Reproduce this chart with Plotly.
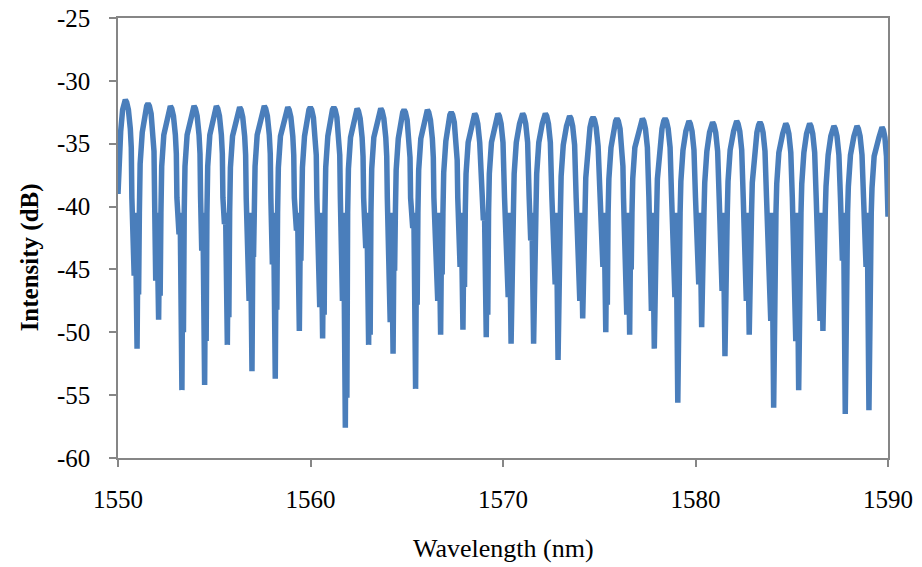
import plotly.graph_objects as go

# Transmission spectrum, one row per fringe period (peak -> dips -> next peak)
wavelength_nm = [
    1550.00, 1550.06, 1550.14, 1550.24, 1550.31,
    1550.38, 1550.45, 1550.54, 1550.64, 1550.69, 1550.72, 1550.84, 1550.90, 1550.99, 1551.04, 1551.07, 1551.11, 1551.15, 1551.26, 1551.40, 1551.49,
    1551.56, 1551.63, 1551.72, 1551.82, 1551.87, 1551.90, 1551.96, 1552.02, 1552.11, 1552.16, 1552.19, 1552.23, 1552.27, 1552.38, 1552.56, 1552.65,
    1552.72, 1552.79, 1552.88, 1552.98, 1553.03, 1553.06, 1553.17, 1553.23, 1553.32, 1553.37, 1553.40, 1553.44, 1553.48, 1553.59, 1553.79, 1553.88,
    1553.95, 1554.02, 1554.11, 1554.21, 1554.26, 1554.29, 1554.35, 1554.41, 1554.50, 1554.55, 1554.58, 1554.62, 1554.66, 1554.77, 1554.95, 1555.04,
    1555.11, 1555.18, 1555.27, 1555.37, 1555.42, 1555.45, 1555.53, 1555.59, 1555.68, 1555.73, 1555.76, 1555.80, 1555.84, 1555.95, 1556.16, 1556.25,
    1556.32, 1556.39, 1556.48, 1556.58, 1556.63, 1556.66, 1556.81, 1556.87, 1556.96, 1557.01, 1557.04, 1557.08, 1557.12, 1557.23, 1557.44, 1557.53,
    1557.60, 1557.67, 1557.76, 1557.86, 1557.91, 1557.94, 1558.02, 1558.08, 1558.17, 1558.22, 1558.25, 1558.29, 1558.33, 1558.44, 1558.66, 1558.75,
    1558.82, 1558.89, 1558.98, 1559.08, 1559.13, 1559.16, 1559.27, 1559.33, 1559.42, 1559.47, 1559.50, 1559.54, 1559.58, 1559.69, 1559.83, 1559.92,
    1559.99, 1560.06, 1560.15, 1560.25, 1560.30, 1560.33, 1560.48, 1560.54, 1560.63, 1560.68, 1560.71, 1560.75, 1560.79, 1560.90, 1561.05, 1561.14,
    1561.21, 1561.28, 1561.37, 1561.47, 1561.52, 1561.55, 1561.66, 1561.72, 1561.81, 1561.86, 1561.89, 1561.93, 1561.97, 1562.08, 1562.26, 1562.35,
    1562.42, 1562.49, 1562.58, 1562.68, 1562.73, 1562.76, 1562.87, 1562.93, 1563.02, 1563.07, 1563.10, 1563.14, 1563.18, 1563.29, 1563.49, 1563.58,
    1563.65, 1563.72, 1563.81, 1563.91, 1563.96, 1563.99, 1564.14, 1564.20, 1564.29, 1564.34, 1564.37, 1564.41, 1564.45, 1564.56, 1564.70, 1564.79,
    1564.86, 1564.93, 1565.02, 1565.12, 1565.17, 1565.20, 1565.31, 1565.37, 1565.46, 1565.51, 1565.54, 1565.58, 1565.62, 1565.73, 1565.91, 1566.00,
    1566.07, 1566.14, 1566.23, 1566.33, 1566.38, 1566.41, 1566.61, 1566.67, 1566.76, 1566.81, 1566.84, 1566.88, 1566.92, 1567.03, 1567.15, 1567.24,
    1567.31, 1567.38, 1567.47, 1567.57, 1567.62, 1567.65, 1567.77, 1567.83, 1567.92, 1567.97, 1568.00, 1568.04, 1568.08, 1568.19, 1568.37, 1568.46,
    1568.53, 1568.60, 1568.69, 1568.79, 1568.84, 1568.87, 1568.98, 1569.04, 1569.13, 1569.18, 1569.21, 1569.25, 1569.29, 1569.40, 1569.58, 1569.67,
    1569.74, 1569.81, 1569.90, 1570.00, 1570.05, 1570.08, 1570.27, 1570.33, 1570.42, 1570.47, 1570.50, 1570.54, 1570.58, 1570.69, 1570.86, 1570.95,
    1571.02, 1571.09, 1571.18, 1571.28, 1571.33, 1571.36, 1571.44, 1571.50, 1571.59, 1571.64, 1571.67, 1571.71, 1571.75, 1571.86, 1572.04, 1572.13,
    1572.20, 1572.27, 1572.36, 1572.46, 1572.51, 1572.54, 1572.71, 1572.77, 1572.86, 1572.91, 1572.94, 1572.98, 1573.02, 1573.13, 1573.30, 1573.39,
    1573.46, 1573.53, 1573.62, 1573.72, 1573.77, 1573.80, 1573.99, 1574.05, 1574.14, 1574.19, 1574.22, 1574.26, 1574.30, 1574.41, 1574.52, 1574.61,
    1574.68, 1574.75, 1574.84, 1574.94, 1574.99, 1575.02, 1575.19, 1575.25, 1575.34, 1575.39, 1575.42, 1575.46, 1575.50, 1575.61, 1575.76, 1575.85,
    1575.92, 1575.99, 1576.08, 1576.18, 1576.23, 1576.26, 1576.43, 1576.49, 1576.58, 1576.63, 1576.66, 1576.70, 1576.74, 1576.85, 1577.08, 1577.17,
    1577.24, 1577.31, 1577.40, 1577.50, 1577.55, 1577.58, 1577.71, 1577.77, 1577.86, 1577.91, 1577.94, 1577.98, 1578.02, 1578.13, 1578.26, 1578.35,
    1578.42, 1578.49, 1578.58, 1578.68, 1578.73, 1578.76, 1578.93, 1578.99, 1579.08, 1579.13, 1579.16, 1579.20, 1579.24, 1579.35, 1579.50, 1579.59,
    1579.66, 1579.73, 1579.82, 1579.92, 1579.97, 1580.00, 1580.17, 1580.23, 1580.32, 1580.37, 1580.40, 1580.44, 1580.48, 1580.59, 1580.73, 1580.82,
    1580.89, 1580.96, 1581.05, 1581.15, 1581.20, 1581.23, 1581.38, 1581.44, 1581.53, 1581.58, 1581.61, 1581.65, 1581.69, 1581.80, 1581.98, 1582.07,
    1582.14, 1582.21, 1582.30, 1582.40, 1582.45, 1582.48, 1582.64, 1582.70, 1582.79, 1582.84, 1582.87, 1582.91, 1582.95, 1583.06, 1583.19, 1583.28,
    1583.35, 1583.42, 1583.51, 1583.61, 1583.66, 1583.69, 1583.91, 1583.97, 1584.06, 1584.11, 1584.14, 1584.18, 1584.22, 1584.33, 1584.53, 1584.62,
    1584.69, 1584.76, 1584.85, 1584.95, 1585.00, 1585.03, 1585.21, 1585.27, 1585.36, 1585.41, 1585.44, 1585.48, 1585.52, 1585.63, 1585.77, 1585.86,
    1585.93, 1586.00, 1586.09, 1586.19, 1586.24, 1586.27, 1586.47, 1586.53, 1586.62, 1586.67, 1586.70, 1586.74, 1586.78, 1586.89, 1587.03, 1587.12,
    1587.19, 1587.26, 1587.35, 1587.45, 1587.50, 1587.53, 1587.63, 1587.69, 1587.78, 1587.83, 1587.86, 1587.90, 1587.94, 1588.05, 1588.23, 1588.32,
    1588.39, 1588.46, 1588.55, 1588.65, 1588.70, 1588.73, 1588.86, 1588.92, 1589.01, 1589.06, 1589.09, 1589.13, 1589.17, 1589.28, 1589.53, 1589.62,
    1589.69, 1589.76, 1589.84, 1589.92, 1590.00,
]

intensity_db = [
    -39.0, -36.0, -34.0, -32.3, -31.7,
    -31.5, -31.7, -32.3, -33.8, -35.3, -39.3, -45.5, -40.5, -51.3, -42.0, -47.0, -40.5, -36.6, -34.1, -32.6, -32.0,
    -31.8, -32.0, -32.6, -34.1, -35.6, -39.3, -45.9, -40.5, -49.0, -42.0, -47.1, -40.5, -36.8, -34.3, -32.8, -32.2,
    -32.0, -32.2, -32.8, -34.3, -35.8, -39.3, -42.2, -40.5, -54.6, -42.0, -50.0, -40.5, -36.8, -34.3, -32.8, -32.2,
    -32.0, -32.2, -32.8, -34.3, -35.8, -39.3, -43.5, -40.5, -54.2, -42.0, -50.7, -40.5, -36.8, -34.3, -32.8, -32.2,
    -32.0, -32.2, -32.8, -34.3, -35.8, -39.3, -41.4, -40.5, -51.0, -42.0, -48.8, -40.5, -36.9, -34.4, -32.9, -32.3,
    -32.1, -32.3, -32.9, -34.4, -35.9, -39.3, -47.5, -40.5, -53.1, -42.0, -44.0, -40.5, -36.8, -34.3, -32.8, -32.2,
    -32.0, -32.2, -32.8, -34.3, -35.8, -39.3, -44.6, -40.5, -53.7, -42.0, -48.2, -40.5, -36.9, -34.4, -32.9, -32.3,
    -32.1, -32.3, -32.9, -34.4, -35.9, -39.3, -41.9, -40.5, -49.9, -42.0, -44.3, -40.5, -36.9, -34.4, -32.9, -32.3,
    -32.1, -32.3, -32.9, -34.4, -35.9, -39.3, -48.0, -40.5, -50.5, -42.0, -48.6, -40.5, -36.9, -34.4, -32.9, -32.3,
    -32.1, -32.3, -32.9, -34.4, -35.9, -39.3, -47.5, -40.5, -57.6, -42.0, -55.2, -40.5, -37.0, -34.5, -33.0, -32.4,
    -32.2, -32.4, -33.0, -34.5, -36.0, -39.3, -43.3, -40.5, -51.0, -42.0, -50.2, -40.5, -37.0, -34.5, -33.0, -32.4,
    -32.2, -32.4, -33.0, -34.5, -36.0, -39.3, -49.2, -40.5, -51.7, -42.0, -45.1, -40.5, -37.1, -34.6, -33.1, -32.5,
    -32.3, -32.5, -33.1, -34.6, -36.1, -39.3, -41.7, -40.5, -54.5, -42.0, -47.8, -40.5, -37.1, -34.6, -33.1, -32.5,
    -32.3, -32.5, -33.1, -34.6, -36.1, -39.3, -47.5, -40.5, -50.2, -42.0, -45.4, -40.5, -37.3, -34.8, -33.3, -32.7,
    -32.5, -32.7, -33.3, -34.8, -36.3, -39.3, -44.8, -40.5, -49.8, -42.0, -46.4, -40.5, -37.4, -34.9, -33.4, -32.8,
    -32.6, -32.8, -33.4, -34.9, -36.4, -39.3, -41.1, -40.5, -50.4, -42.0, -48.6, -40.5, -37.4, -34.9, -33.4, -32.8,
    -32.6, -32.8, -33.4, -34.9, -36.4, -39.3, -47.2, -40.5, -50.9, -42.0, -47.5, -40.5, -37.4, -34.9, -33.4, -32.8,
    -32.6, -32.8, -33.4, -34.9, -36.4, -39.3, -42.7, -40.5, -50.9, -42.0, -48.8, -40.5, -37.4, -34.9, -33.4, -32.8,
    -32.6, -32.8, -33.4, -34.9, -36.4, -39.3, -46.2, -40.5, -52.2, -42.0, -47.0, -40.5, -37.6, -35.1, -33.6, -33.0,
    -32.8, -33.0, -33.6, -35.1, -36.6, -39.3, -47.5, -40.5, -48.9, -42.0, -45.4, -40.5, -37.7, -35.2, -33.7, -33.1,
    -32.9, -33.1, -33.7, -35.2, -36.7, -39.3, -44.8, -40.5, -50.0, -42.0, -47.8, -40.5, -37.8, -35.3, -33.8, -33.2,
    -33.0, -33.2, -33.8, -35.3, -36.8, -39.3, -48.6, -40.5, -50.2, -42.0, -45.0, -40.5, -37.8, -35.3, -33.8, -33.2,
    -33.0, -33.2, -33.8, -35.3, -36.8, -39.3, -48.3, -40.5, -51.3, -42.0, -49.1, -40.5, -37.8, -35.3, -33.8, -33.2,
    -33.0, -33.2, -33.8, -35.3, -36.8, -39.3, -47.2, -40.5, -55.6, -42.0, -47.8, -40.5, -38.0, -35.5, -34.0, -33.4,
    -33.2, -33.4, -34.0, -35.5, -37.0, -39.3, -46.2, -40.5, -49.6, -42.0, -46.4, -40.5, -38.1, -35.6, -34.1, -33.5,
    -33.3, -33.5, -34.1, -35.6, -37.1, -39.3, -46.7, -40.5, -51.9, -42.0, -49.1, -40.5, -38.0, -35.5, -34.0, -33.4,
    -33.2, -33.4, -34.0, -35.5, -37.0, -39.3, -47.5, -40.5, -50.2, -42.0, -47.2, -40.5, -38.1, -35.6, -34.1, -33.5,
    -33.3, -33.5, -34.1, -35.6, -37.1, -39.3, -49.1, -40.5, -56.0, -42.0, -43.8, -40.5, -38.2, -35.7, -34.2, -33.6,
    -33.4, -33.6, -34.2, -35.7, -37.2, -39.3, -50.7, -40.5, -54.6, -42.0, -43.8, -40.5, -38.2, -35.7, -34.2, -33.6,
    -33.4, -33.6, -34.2, -35.7, -37.2, -39.3, -49.1, -40.5, -49.9, -42.0, -43.5, -40.5, -38.4, -35.9, -34.4, -33.8,
    -33.6, -33.8, -34.4, -35.9, -37.4, -39.3, -44.3, -40.5, -56.5, -42.0, -48.6, -40.5, -38.4, -35.9, -34.4, -33.8,
    -33.6, -33.8, -34.4, -35.9, -37.4, -39.3, -44.8, -40.5, -56.2, -42.0, -48.6, -40.5, -38.5, -36.0, -34.5, -33.9,
    -33.7, -33.9, -34.5, -36.0, -40.8,
]

x_ticks = [1550, 1560, 1570, 1580, 1590]
x_tick_labels = ["1550", "1560", "1570", "1580", "1590"]
y_ticks = [-60, -55, -50, -45, -40, -35, -30, -25]
y_tick_labels = ["-60", "-55", "-50", "-45", "-40", "-35", "-30", "-25"]

serif = "Times New Roman, Liberation Serif, serif"
axis_grey = "#868686"

fig = go.Figure()
fig.add_trace(go.Scatter(
    x=wavelength_nm, y=intensity_db, mode="lines",
    line=dict(color="#4A7EBB", width=5.5),
    showlegend=False, hoverinfo="skip",
))

common_axis = dict(
    ticks="outside", ticklen=7, tickcolor=axis_grey, tickwidth=1.5,
    showline=True, linecolor=axis_grey, linewidth=1.5, mirror=True,
    showgrid=False, zeroline=False, automargin=False,
    tickfont=dict(family=serif, size=25, color="black"),
)
fig.update_xaxes(range=[1550, 1590], tickvals=x_ticks, ticktext=x_tick_labels,
                 ticklabelstandoff=11, **common_axis)
fig.update_yaxes(range=[-60, -25], tickvals=y_ticks, ticktext=y_tick_labels,
                 ticklabelstandoff=14, **common_axis)

fig.update_layout(
    width=922, height=567,
    margin=dict(l=118, r=34, t=18, b=109),
    plot_bgcolor="white", paper_bgcolor="white",
    annotations=[
        dict(text="Wavelength (nm)", xref="paper", yref="paper", x=0.5, y=-0.205,
             xanchor="center", yanchor="middle", showarrow=False,
             font=dict(family=serif, size=26, color="black")),
        dict(text="<b>Intensity (dB)</b>", xref="paper", yref="paper", x=-0.115, y=0.457,
             xanchor="center", yanchor="middle", textangle=-90, showarrow=False,
             font=dict(family=serif, size=25, color="black")),
    ],
)

fig.write_html("out.html", config={"displayModeBar": False},
               post_script="document.body.style.margin='0';")
